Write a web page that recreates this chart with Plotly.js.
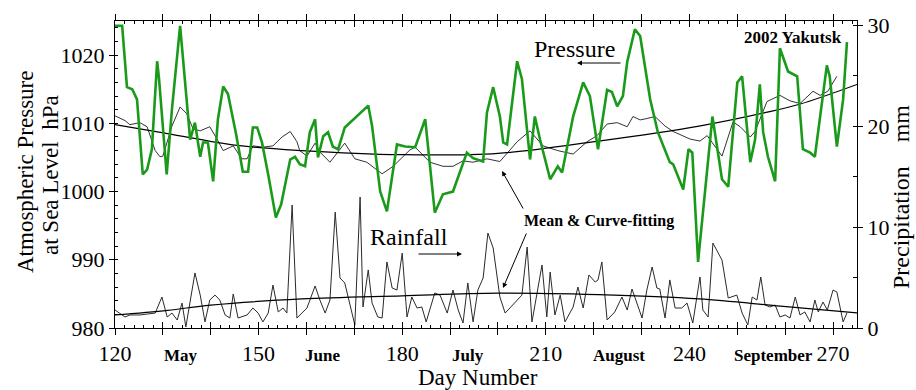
<!DOCTYPE html>
<html>
<head>
<meta charset="utf-8">
<script src="https://cdn.plot.ly/plotly-3.0.1.min.js"></script>
<style>html,body{margin:0;padding:0;background:#fff;}#chart{width:916px;height:390px;}</style>
</head>
<body>
<div id="chart"></div>
<script>
// ---------- data ----------
const pressureDays = [120.0,121.5,122.5,123.6,124.6,125.8,126.7,127.7,128.8,129.2,130.8,131.9,133.6,134.6,135.7,136.7,137.8,138.4,139.4,140.5,141.5,142.6,143.6,145.3,146.7,147.8,148.8,149.7,150.7,152.0,153.6,154.7,156.6,157.6,158.6,159.7,160.7,161.8,162.4,163.5,164.5,165.5,166.6,168.0,172.9,173.7,175.4,176.8,178.9,180.6,182.7,184.8,186.8,188.5,190.6,193.5,194.8,196.9,197.7,199.0,200.4,201.1,201.9,204.0,205.0,206.7,207.7,208.8,210.9,212.5,213.4,215.7,217.8,219.2,220.9,222.8,223.8,224.9,226.1,227.0,228.6,229.7,231.8,233.4,235.9,236.6,238.7,239.8,240.6,241.8,244.8,246.8,248.1,250.0,251.0,252.7,253.7,254.7,255.4,256.4,257.9,258.9,260.6,262.5,263.7,265.2,266.2,268.7,269.3,270.8,272.1,272.9];
const pressure = [1024.3,1024.3,1015.3,1015.0,1013.5,1002.5,1003.2,1006.2,1019.1,1016.5,1002.5,1012.1,1024.3,1016.5,1007.6,1010.1,1005.1,1007.2,1007.2,1001.5,1010.6,1015.4,1014.3,1008.4,1002.9,1002.9,1009.4,1009.4,1007.2,1002.5,996.2,998.1,1004.7,1005.1,1004.0,1003.7,1008.7,1010.6,1005.0,1008.1,1008.7,1006.6,1006.2,1009.4,1012.6,1009.6,1000.0,997.1,1006.9,1006.6,1006.5,1010.6,996.9,999.6,1000.0,1005.7,1004.9,1004.4,1011.6,1015.3,1011.0,1007.2,1006.9,1019.1,1016.5,1004.7,1011.0,1007.6,1001.8,1003.7,1002.8,1011.0,1016.0,1014.0,1006.2,1014.9,1014.6,1012.5,1014.0,1019.0,1023.8,1022.8,1013.5,1008.7,1004.3,1004.0,1000.3,1006.2,1005.7,989.7,1011.0,1001.8,1000.7,1016.0,1016.9,1004.3,1007.6,1015.7,1008.7,1005.1,1001.5,1021.0,1017.6,1016.9,1006.2,1005.7,1005.1,1018.5,1016.9,1006.6,1013.5,1021.9];

const meanDays = [120.0,122.1,123.1,125.2,126.7,128.4,129.4,130.0,131.9,133.6,135.0,136.3,137.8,139.8,141.3,142.6,144.7,146.5,147.6,148.8,150.9,153.0,154.9,156.6,158.0,158.6,160.1,161.8,162.8,164.9,168.0,170.1,172.6,175.8,178.1,181.6,182.7,185.8,188.5,190.6,192.7,194.8,197.7,200.4,204.0,206.7,209.4,212.5,215.7,218.6,220.7,222.8,224.9,227.0,228.2,229.7,231.1,232.8,234.9,236.6,240.1,242.2,243.7,246.8,249.1,250.6,252.7,253.7,256.2,258.9,261.0,263.1,265.8,267.3,268.9,270.8];
const meanPressure = [1011.1,1010.4,1009.8,1010.1,1009.5,1006.0,1005.1,1005.2,1009.6,1012.4,1011.4,1009.2,1008.9,1009.5,1007.7,1006.0,1006.7,1004.8,1004.8,1006.7,1006.5,1006.7,1008.0,1008.8,1007.3,1006.0,1005.2,1007.1,1005.8,1004.3,1007.1,1004.8,1004.3,1002.6,1003.7,1006.1,1006.5,1004.3,1003.7,1003.7,1004.5,1004.3,1004.8,1004.4,1007.3,1008.9,1006.7,1006.0,1005.5,1007.3,1008.2,1009.9,1010.1,1009.5,1011.0,1010.5,1010.7,1011.0,1009.6,1008.8,1007.7,1007.4,1008.2,1005.2,1010.2,1009.5,1008.0,1008.8,1013.2,1014.1,1013.3,1012.9,1014.7,1014.1,1014.7,1016.9];

const fitDays = [120,131,145,159,180,200,221,242,256,263,275];
const fitPressure = [1009.8,1008.5,1006.8,1006.0,1005.4,1005.6,1007.4,1009.6,1011.6,1012.8,1015.7];

const rainDays = [120.0,121.0,122.1,123.1,125.2,128.4,129.8,130.9,131.9,133.0,134.0,134.8,136.7,137.8,138.8,139.8,140.9,141.9,143.0,144.0,144.7,145.7,147.6,148.8,149.9,150.9,152.0,153.0,154.1,155.1,155.9,157.0,158.0,160.1,161.8,162.8,163.9,164.9,166.0,167.0,168.0,170.1,171.2,171.8,172.9,173.7,174.9,175.8,176.8,177.9,178.9,180.0,181.0,182.0,183.1,184.1,185.0,186.8,187.9,189.4,190.6,191.7,192.7,193.7,194.8,195.8,196.9,197.9,199.0,200.4,201.5,205.0,206.1,207.1,208.2,209.2,210.2,210.9,211.9,213.0,214.0,215.7,216.7,217.8,219.0,220.3,220.9,221.7,222.8,224.4,225.9,227.0,228.0,230.1,231.1,232.2,233.2,233.8,234.9,235.9,237.0,238.4,239.5,240.7,242.2,242.8,243.9,244.9,246.8,248.1,249.9,251.0,252.2,253.1,254.1,254.9,255.8,256.8,257.9,258.9,260.0,261.0,262.1,263.1,264.1,265.2,266.2,266.9,267.9,268.8,270.0,270.8,272.1,272.9];
const rainfall = [1.78,1.48,1.09,1.29,1.29,1.48,3.07,1.09,1.48,0.79,2.47,0.10,5.45,3.26,0.60,2.77,3.26,2.77,1.29,0.99,3.37,0.99,1.29,1.98,1.48,0.60,1.48,4.25,1.59,1.98,1.48,12.18,0.99,1.98,4.16,2.77,1.48,2.77,11.48,4.95,4.46,0.30,12.97,2.08,5.75,2.47,1.09,0.99,6.54,3.96,3.76,7.42,1.09,3.07,1.98,2.08,0.60,3.47,3.26,1.48,3.76,1.78,0.49,4.46,0.60,3.76,4.95,9.40,7.92,3.07,1.48,3.26,8.02,0.60,3.76,6.24,1.09,5.54,1.29,3.26,0.60,2.08,4.06,1.98,5.25,4.55,4.76,6.54,0.79,1.59,3.07,1.78,3.86,0.99,3.76,6.04,3.96,3.86,0.99,4.76,1.98,1.98,2.47,0.49,5.05,1.78,1.09,8.41,6.73,2.97,3.26,1.48,0.30,3.07,2.77,5.05,2.28,2.08,2.28,1.09,1.29,0.99,3.07,1.29,1.59,0.60,2.77,1.59,2.57,1.78,3.76,3.56,0.60,1.48];

const rainFitDays = [120,131,140,159,180,200,221,242,259,275];
const rainFit = [1.29,1.75,2.27,2.88,3.19,3.45,3.3,2.88,2.16,1.49];

const xTickVals = [120,130,140,150,160,170,180,190,200,210,220,230,240,250,260,270];
const xTickText = ['120','','','150','','','180','','','210','','','240','','','270'];
const monthLabels = ['May','June','July','August','September'];
const monthPx = [181,322,468,619,773];

// ---------- layout helpers ----------
const W = 916, H = 390, L = 115, R = 59, T = 21, B = 62;
const PW = W - L - R, PH = H - T - B;
const px = x => (x - L) / PW;
const py = y => (H - B - y) / PH;
const SERIF = '"Liberation Serif", "Times New Roman", serif';

const traces = [
  {x: rainDays, y: rainfall, xaxis: 'x2', yaxis: 'y2', mode: 'lines', line: {color: '#2a2a2a', width: 1}, hoverinfo: 'skip'},
  {x: rainFitDays, y: rainFit, xaxis: 'x2', yaxis: 'y2', mode: 'lines', line: {color: '#000', width: 1.2, shape: 'spline'}, hoverinfo: 'skip'},
  {x: meanDays, y: meanPressure, mode: 'lines', line: {color: '#333', width: 1}, hoverinfo: 'skip'},
  {x: fitDays, y: fitPressure, mode: 'lines', line: {color: '#000', width: 1.2, shape: 'spline'}, hoverinfo: 'skip'},
  {x: pressureDays, y: pressure, mode: 'lines', line: {color: '#1a9a1a', width: 2.6}, hoverinfo: 'skip'}
];

const tf = {family: SERIF, size: 22, color: '#000'};
const ttl = {family: SERIF, size: 23, color: '#000'};
const annotations = [
  {x: px(25), y: py(172), text: 'Atmospheric Pressure', textangle: -90, font: ttl},
  {x: px(50), y: py(175), text: 'at Sea Level\u00a0\u00a0hPa', textangle: -90, font: ttl},
  {x: px(901), y: py(197), text: 'Precipitation\u00a0\u00a0\u00a0\u00a0mm', textangle: -90, font: {family: SERIF, size: 24, color: '#000'}},
  {x: px(478), y: py(377), text: 'Day Number', font: ttl},
  {x: px(574), y: py(49), text: 'Pressure'},
  {x: px(409), y: py(237), text: 'Rainfall'},
  {x: px(599), y: py(221), text: '<b>Mean &amp; Curve-fitting</b>', font: {family: SERIF, size: 16, color: '#000'}},
  {x: px(793), y: py(37), text: '<b>2002 Yakutsk</b>', font: {family: SERIF, size: 17, color: '#000'}}
].map(a => Object.assign({xref: 'paper', yref: 'paper', xanchor: 'center', yanchor: 'middle', showarrow: false, font: {family: SERIF, size: 24, color: '#000'}}, a));

monthLabels.forEach((m, i) => annotations.push({
  xref: 'paper', yref: 'paper', x: px(monthPx[i]), y: py(355), text: '<b>' + m + '</b>',
  xanchor: 'center', yanchor: 'middle', showarrow: false, font: {family: SERIF, size: 17, color: '#000'}
}));

const arrow = (hx, hy, tx, ty) => ({
  xref: 'paper', yref: 'paper', x: px(hx), y: py(hy), ax: tx - hx, ay: ty - hy,
  text: '', showarrow: true, arrowhead: 2, arrowsize: 1, arrowwidth: 1, arrowcolor: '#000'
});
annotations.push(arrow(577, 63, 622, 63));
annotations.push(arrow(462, 254, 417, 254));
annotations.push(arrow(502, 171, 524, 210));
annotations.push(arrow(503, 288, 527, 232));

const layout = {
  width: W, height: H,
  margin: {l: L, r: R, t: T, b: B},
  paper_bgcolor: '#fff', plot_bgcolor: '#fff',
  showlegend: false,
  font: {family: SERIF, color: '#000'},
  xaxis: {
    range: [120, 275], tickmode: 'array', tickvals: xTickVals, ticktext: xTickText,
    ticks: 'outside', ticklen: 6, tickwidth: 1, tickcolor: '#000',
    showline: true, linecolor: '#000', linewidth: 1, mirror: 'ticks',
    showgrid: false, zeroline: false, tickfont: tf
  },
  xaxis2: {
    overlaying: 'x', anchor: 'y2', range: [120, 275], tickmode: 'linear', tick0: 120, dtick: 10,
    ticks: 'inside', ticklen: 6, tickwidth: 1, tickcolor: '#000', showticklabels: false,
    showline: true, linecolor: '#000', mirror: 'ticks', showgrid: false, zeroline: false,
    minor: {ticks: 'inside', ticklen: 3, tickmode: 'linear', tick0: 120, dtick: 2, tickcolor: '#000', tickwidth: 1, showgrid: false}
  },
  yaxis: {
    range: [980, 1025], tickmode: 'linear', tick0: 980, dtick: 10,
    ticks: 'outside', ticklen: 5, tickwidth: 1, tickcolor: '#000',
    showline: true, linecolor: '#000', linewidth: 1, showgrid: false, zeroline: false, tickfont: tf,
    minor: {ticks: 'inside', ticklen: 3, tickmode: 'linear', tick0: 980, dtick: 2, tickcolor: '#000', tickwidth: 1, showgrid: false}
  },
  yaxis2: {
    overlaying: 'y', side: 'right', anchor: 'x2', range: [0, 30.4], tickmode: 'linear', tick0: 0, dtick: 10,
    ticks: 'outside', ticklen: 5, tickwidth: 1, tickcolor: '#000',
    showline: true, linecolor: '#000', linewidth: 1, showgrid: false, zeroline: false, tickfont: tf,
    minor: {ticks: 'inside', ticklen: 4, tickmode: 'linear', tick0: 0, dtick: 5, tickcolor: '#000', tickwidth: 1, showgrid: false}
  },
  annotations: annotations
};

Plotly.newPlot('chart', traces, layout, {staticPlot: true, displayModeBar: false});
</script>
</body>
</html>
